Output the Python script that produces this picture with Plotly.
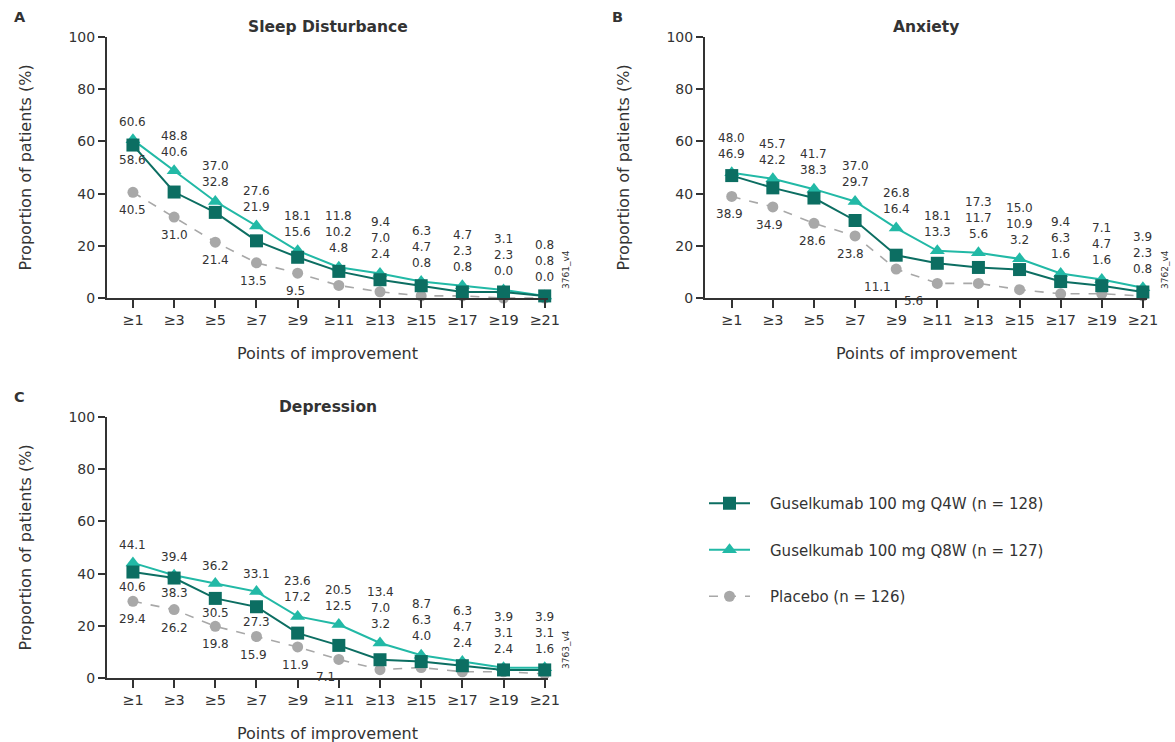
import plotly.graph_objects as go

categories = ["≥1", "≥3", "≥5", "≥7", "≥9", "≥11", "≥13", "≥15", "≥17", "≥19", "≥21"]

sleep_q4w = [58.6, 40.6, 32.8, 21.9, 15.6, 10.2, 7.0, 4.7, 2.3, 2.3, 0.8]
sleep_q8w = [60.6, 48.8, 37.0, 27.6, 18.1, 11.8, 9.4, 6.3, 4.7, 3.1, 0.8]
sleep_pbo = [40.5, 31.0, 21.4, 13.5, 9.5, 4.8, 2.4, 0.8, 0.8, 0.0, 0.0]

anx_q4w = [46.9, 42.2, 38.3, 29.7, 16.4, 13.3, 11.7, 10.9, 6.3, 4.7, 2.3]
anx_q8w = [48.0, 45.7, 41.7, 37.0, 26.8, 18.1, 17.3, 15.0, 9.4, 7.1, 3.9]
anx_pbo = [38.9, 34.9, 28.6, 23.8, 11.1, 5.6, 5.6, 3.2, 1.6, 1.6, 0.8]

dep_q4w = [40.6, 38.3, 30.5, 27.3, 17.2, 12.5, 7.0, 6.3, 4.7, 3.1, 3.1]
dep_q8w = [44.1, 39.4, 36.2, 33.1, 23.6, 20.5, 13.4, 8.7, 6.3, 3.9, 3.9]
dep_pbo = [29.4, 26.2, 19.8, 15.9, 11.9, 7.1, 3.2, 4.0, 2.4, 2.4, 1.6]

series_names = ["Guselkumab 100 mg Q4W (n = 128)", "Guselkumab 100 mg Q8W (n = 127)", "Placebo (n = 126)"]
panel_titles = ["Sleep Disturbance", "Anxiety", "Depression"]
panel_letters = ["A", "B", "C"]
side_codes = ["3761_v4", "3762_v4", "3763_v4"]

# style: label arrangement per category
modes_a = ["split", "2up", "2up", "2up", "2up", "3up", "3up", "3up", "3up", "3up", "3up"]
modes_b = ["2up", "2up", "2up", "2up", "2up", "2up", "3up", "3up", "3up", "3up", "3up"]
modes_c = ["split", "split", "split", "split", "2up", "2up", "3up", "3up", "3up", "3up", "3up"]
pdx_a = [0, 0, 0, -3, -2, 0, 0, 0, 0, 0, 0]
pdx_b = [-2, -3, -1, -5, -19, -24, 0, 0, 0, 0, 0]
pdx_c = [0, 0, 0, -3, -2, -13, 0, 0, 0, 0, 0]

C_Q4 = "#0c6e62"
C_Q8 = "#22b9a6"
C_PB = "#a8a8a8"
TXT = "#333333"
FONT = "DejaVu Sans, Verdana, sans-serif"

FW, FH = 1175, 742
LEG_PAD = "\u2002\u2002"  # visual gap between legend symbol and text


def px2x(px):
    return px / FW


def py2y(py):
    return 1 - py / FH


fig = go.Figure()

panels = [
    dict(q4=sleep_q4w, q8=sleep_q8w, pb=sleep_pbo, modes=modes_a, pdx=pdx_a,
         xp=(107, 548), yp=(298, 37), xr=[-0.63, 10.08]),
    dict(q4=anx_q4w, q8=anx_q8w, pb=anx_pbo, modes=modes_b, pdx=pdx_b,
         xp=(705, 1147), yp=(298, 37), xr=[-0.65, 10.1]),
    dict(q4=dep_q4w, q8=dep_q8w, pb=dep_pbo, modes=modes_c, pdx=pdx_c,
         xp=(107, 548), yp=(678, 417), xr=[-0.63, 10.08]),
]

annotations = []
for p_i, p in enumerate(panels):
    sfx = "" if p_i == 0 else str(p_i + 1)
    xa, ya = "x" + sfx, "y" + sfx
    show = p_i == 0
    fig.add_trace(go.Scatter(
        x=categories, y=p["pb"], mode="lines+markers", name=LEG_PAD + series_names[2],
        line=dict(color=C_PB, width=1.6, dash="dash"),
        marker=dict(symbol="circle", size=11, color=C_PB),
        xaxis=xa, yaxis=ya, showlegend=show, legendrank=3, legendgroup="c",
        cliponaxis=False))
    fig.add_trace(go.Scatter(
        x=categories, y=p["q8"], mode="lines+markers", name=LEG_PAD + series_names[1],
        line=dict(color=C_Q8, width=2),
        marker=dict(symbol="triangle-up", size=13, color=C_Q8),
        xaxis=xa, yaxis=ya, showlegend=show, legendrank=2, legendgroup="b",
        cliponaxis=False))
    fig.add_trace(go.Scatter(
        x=categories, y=p["q4"], mode="lines+markers", name=LEG_PAD + series_names[0],
        line=dict(color=C_Q4, width=2),
        marker=dict(symbol="square", size=13, color=C_Q4),
        xaxis=xa, yaxis=ya, showlegend=show, legendrank=1, legendgroup="a",
        cliponaxis=False))

    x0, x1 = px2x(p["xp"][0]), px2x(p["xp"][1])
    y0, y1 = py2y(p["yp"][0]), py2y(p["yp"][1])

    axis_common = dict(showgrid=False, zeroline=False, showline=True, linecolor="#333333",
                       linewidth=2, ticks="outside", ticklen=7, tickwidth=2, tickcolor="#333333",
                       tickfont=dict(family=FONT, size=14, color=TXT))
    fig.layout["xaxis" + sfx] = dict(axis_common, domain=[x0, x1], range=p["xr"],
                                     type="category", categoryorder="array",
                                     categoryarray=categories, anchor=ya,
                                     tickfont=dict(family=FONT, size=14.5, color=TXT), ticklen=8)
    fig.layout["yaxis" + sfx] = dict(axis_common, domain=[y0, y1], range=[0, 100],
                                     tickvals=[0, 20, 40, 60, 80, 100], anchor=xa)

    def lab(cat, y, txt, ys, xs=0):
        annotations.append(dict(x=cat, y=y, xref=xa, yref=ya, text=txt, showarrow=False,
                                yshift=ys, xshift=xs, yanchor="middle", xanchor="center",
                                font=dict(family=FONT, size=12, color=TXT)))

    for i, cat in enumerate(categories):
        q4, q8, pb = p["q4"][i], p["q8"][i], p["pb"][i]
        m = p["modes"][i]
        if m == "3up":
            top = max(q4, q8, pb)
            lab(cat, top, f"{q8:.1f}", 19 + 32)
            lab(cat, top, f"{q4:.1f}", 19 + 16)
            lab(cat, top, f"{pb:.1f}", 19)
        elif m == "2up":
            top = max(q4, q8)
            lab(cat, top, f"{q8:.1f}", 19 + 16)
            lab(cat, top, f"{q4:.1f}", 19)
            lab(cat, pb, f"{pb:.1f}", -18, p["pdx"][i])
        else:
            lab(cat, q8, f"{q8:.1f}", 18)
            lab(cat, q4, f"{q4:.1f}", -15)
            lab(cat, pb, f"{pb:.1f}", -18, p["pdx"][i])

    xpc = (p["xp"][0] + p["xp"][1]) / 2
    annotations.append(dict(x=px2x(xpc), y=py2y(p["yp"][1] - 10), xref="paper", yref="paper",
                            text="<b>" + panel_titles[p_i] + "</b>", xanchor="center",
                            showarrow=False, yanchor="middle", font=dict(family=FONT, size=15.5, color=TXT)))
    annotations.append(dict(x=px2x(xpc), y=py2y(p["yp"][0] + 55), xref="paper", yref="paper",
                            text="Points of improvement", xanchor="center",
                            showarrow=False, yanchor="middle", font=dict(family=FONT, size=16, color=TXT)))
    annotations.append(dict(x=px2x(p["xp"][0] - 82), y=py2y((p["yp"][0] + p["yp"][1]) / 2), xref="paper", yref="paper",
                            text="Proportion of patients (%)", textangle=-90,
                            showarrow=False, xanchor="center", yanchor="middle",
                            font=dict(family=FONT, size=16, color=TXT)))
    annotations.append(dict(x=px2x(p["xp"][0] - 95), y=py2y(p["yp"][1] - 20), xref="paper", yref="paper",
                            text="<b>" + panel_letters[p_i] + "</b>",
                            showarrow=False, xanchor="left", yanchor="middle",
                            font=dict(family=FONT, size=14.5, color=TXT)))
    annotations.append(dict(x=px2x(p["xp"][1] + 18), y=py2y(p["yp"][0] - 28), xref="paper", yref="paper",
                            text=side_codes[p_i],
                            textangle=-90, showarrow=False, xanchor="center", yanchor="middle",
                            font=dict(family=FONT, size=9, color=TXT)))

fig.update_layout(
    width=FW, height=FH, margin=dict(l=0, r=0, t=0, b=0, autoexpand=False),
    paper_bgcolor="white", plot_bgcolor="white",
    annotations=annotations,
    legend=dict(x=px2x(704), y=py2y(487), xanchor="left", yanchor="top",
                font=dict(family=FONT, size=15, color=TXT), tracegroupgap=24,
                bgcolor="rgba(0,0,0,0)", itemwidth=41),
)

fig.write_html(
    "out.html",
    config={"displayModeBar": False},
    post_script="document.body.style.margin='0';document.body.style.overflow='hidden';",
)
